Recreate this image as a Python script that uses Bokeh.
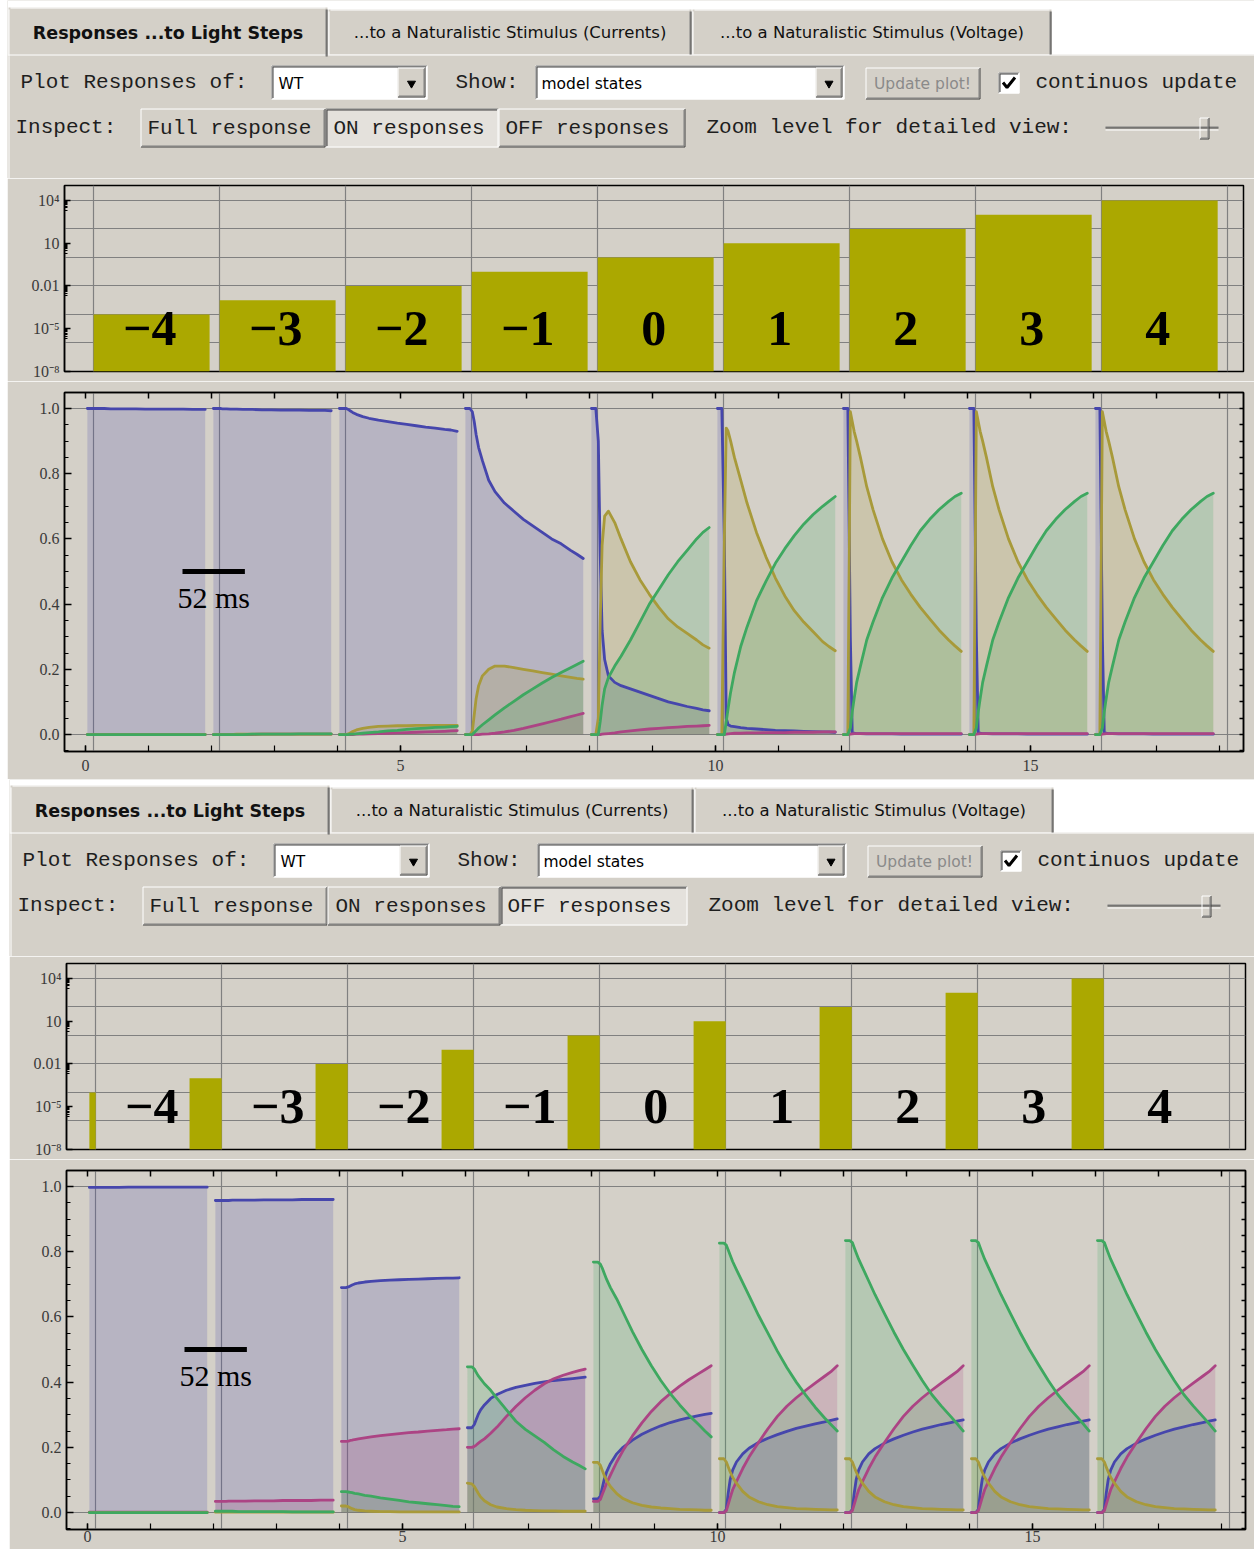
import numpy as np
from bokeh.plotting import figure
from bokeh.layouts import column, row
from bokeh.models import (Range1d, FixedTicker, LinearAxis, Grid, NumeralTickFormatter, Spacer)
from bokeh.core.properties import value
from bokeh.embed import file_html
from bokeh.resources import INLINE

# ---------------------------------------------------------------- data
TAB_LABELS = ["Responses ...to Light Steps",
              "...to a Naturalistic Stimulus (Currents)",
              "...to a Naturalistic Stimulus (Voltage)"]
STEP_LABELS = ["\u22124", "\u22123", "\u22122", "\u22121", "0", "1", "2", "3", "4"]
STEP_INTENSITY = [1e-4, 1e-3, 1e-2, 1e-1, 1e0, 1e1, 1e2, 1e3, 1e4]
LOG_TICKS = [1e-8, 1e-5, 1e-2, 1e1, 1e4]
LOG_TICK_LABELS = ["10\u207b\u2078", "10\u207b\u2075", "0.01", "10", "10\u2074"]
LOG_GRID = [1e-6, 1e-4, 1e-2, 1e0, 1e2, 1e4]
X_TICKS = [0, 5, 10, 15]
Y_TICKS = [0.0, 0.2, 0.4, 0.6, 0.8, 1.0]
SCALE_BAR_X = [1.54, 2.53]
SCALE_BAR_Y = [0.5, 0.5]
SCALE_BAR_TEXT = "52 ms"

# time within each 2-unit step window
T_REL = [0.03, 0.10, 0.14, 0.17, 0.20, 0.24, 0.30, 0.40, 0.50, 0.65,
         0.80, 0.95, 1.10, 1.25, 1.40, 1.55, 1.70, 1.80, 1.90]

ON_BLUE = [
    [1.0, 1.0, 1.0, 1.0, 1.0, 1.0, 1.0, 0.999, 0.999, 0.999, 0.999, 0.998, 0.998, 0.998, 0.998, 0.998, 0.997, 0.997, 0.997],
    [1.0, 1.0, 1.0, 0.999, 0.999, 0.999, 0.998, 0.998, 0.997, 0.997, 0.996, 0.996, 0.995, 0.995, 0.995, 0.994, 0.994, 0.994, 0.993],
    [1.0, 1.0, 1.0, 0.997, 0.993, 0.988, 0.982, 0.975, 0.970, 0.964, 0.960, 0.955, 0.951, 0.947, 0.943, 0.940, 0.936, 0.934, 0.930],
    [1.0, 1.0, 0.99, 0.96, 0.92, 0.88, 0.84, 0.78, 0.745, 0.71, 0.685, 0.66, 0.64, 0.62, 0.60, 0.585, 0.565, 0.553, 0.54],
    [1.0, 1.0, 0.9, 0.55, 0.32, 0.23, 0.18, 0.16, 0.15, 0.14, 0.13, 0.12, 0.11, 0.10, 0.093, 0.086, 0.08, 0.076, 0.073],
    [1.0, 1.0, 0.6, 0.05, 0.03, 0.026, 0.024, 0.021, 0.019, 0.017, 0.015, 0.013, 0.012, 0.011, 0.010, 0.009, 0.008, 0.008, 0.007],
    [1.0, 1.0, 0.3, 0.006, 0.004, 0.003, 0.003, 0.002, 0.002, 0.002, 0.002, 0.001, 0.001, 0.001, 0.001, 0.001, 0.001, 0.001, 0.001],
    [1.0, 1.0, 0.3, 0.006, 0.004, 0.003, 0.003, 0.002, 0.002, 0.002, 0.002, 0.001, 0.001, 0.001, 0.001, 0.001, 0.001, 0.001, 0.001],
    [1.0, 1.0, 0.3, 0.006, 0.004, 0.003, 0.003, 0.002, 0.002, 0.002, 0.002, 0.001, 0.001, 0.001, 0.001, 0.001, 0.001, 0.001, 0.001],
]
ON_MAGENTA = [
    [0.0] * 19,
    [0, 0, 0, 0, 0, 0, 0, 0, 0, 0, 0.001, 0.001, 0.001, 0.001, 0.001, 0.001, 0.001, 0.001, 0.001],
    [0, 0, 0, 0, 0, 0, 0.001, 0.001, 0.002, 0.003, 0.004, 0.005, 0.006, 0.007, 0.008, 0.009, 0.010, 0.011, 0.012],
    [0, 0, 0, 0, 0, 0, 0.001, 0.002, 0.004, 0.008, 0.013, 0.019, 0.026, 0.033, 0.040, 0.047, 0.055, 0.060, 0.065],
    [0, 0, 0, 0, 0.001, 0.002, 0.003, 0.005, 0.008, 0.011, 0.014, 0.017, 0.019, 0.021, 0.023, 0.025, 0.026, 0.027, 0.028],
    [0, 0, 0, 0.001, 0.002, 0.003, 0.004, 0.004, 0.005, 0.005, 0.006, 0.006, 0.006, 0.007, 0.007, 0.007, 0.008, 0.008, 0.008],
    [0, 0, 0.001, 0.002, 0.003, 0.003, 0.003, 0.003, 0.003, 0.003, 0.003, 0.003, 0.003, 0.003, 0.003, 0.003, 0.003, 0.003, 0.003],
    [0, 0, 0.001, 0.002, 0.003, 0.003, 0.003, 0.003, 0.003, 0.003, 0.003, 0.003, 0.003, 0.003, 0.003, 0.003, 0.003, 0.003, 0.003],
    [0, 0, 0.001, 0.002, 0.003, 0.003, 0.003, 0.003, 0.003, 0.003, 0.003, 0.003, 0.003, 0.003, 0.003, 0.003, 0.003, 0.003, 0.003],
]
ON_OLIVE = [
    [0.0] * 19,
    [0, 0, 0, 0, 0, 0, 0, 0.001, 0.001, 0.001, 0.001, 0.001, 0.001, 0.001, 0.001, 0.001, 0.001, 0.001, 0.001],
    [0, 0, 0, 0.002, 0.005, 0.009, 0.014, 0.019, 0.022, 0.025, 0.026, 0.027, 0.027, 0.028, 0.028, 0.028, 0.028, 0.028, 0.028],
    [0, 0, 0.01, 0.06, 0.11, 0.15, 0.18, 0.20, 0.21, 0.21, 0.205, 0.20, 0.195, 0.19, 0.185, 0.18, 0.175, 0.172, 0.17],
    [0, 0, 0.05, 0.35, 0.58, 0.67, 0.685, 0.65, 0.60, 0.53, 0.475, 0.43, 0.39, 0.355, 0.33, 0.31, 0.29, 0.275, 0.265],
    [0, 0, 0.6, 0.94, 0.93, 0.90, 0.85, 0.78, 0.71, 0.62, 0.545, 0.48, 0.425, 0.38, 0.345, 0.315, 0.285, 0.27, 0.257],
    [0, 0, 0.99, 0.96, 0.93, 0.90, 0.85, 0.76, 0.69, 0.60, 0.53, 0.475, 0.43, 0.39, 0.355, 0.32, 0.29, 0.272, 0.255],
    [0, 0, 0.99, 0.96, 0.93, 0.90, 0.85, 0.76, 0.69, 0.60, 0.53, 0.475, 0.43, 0.39, 0.355, 0.32, 0.29, 0.272, 0.255],
    [0, 0, 0.99, 0.96, 0.93, 0.90, 0.85, 0.76, 0.69, 0.60, 0.53, 0.475, 0.43, 0.39, 0.355, 0.32, 0.29, 0.272, 0.255],
]
ON_GREEN = [
    [0.0] * 19,
    [0, 0, 0, 0, 0, 0, 0, 0, 0, 0.001, 0.001, 0.001, 0.001, 0.001, 0.002, 0.002, 0.002, 0.002, 0.002],
    [0, 0, 0, 0, 0.001, 0.001, 0.002, 0.004, 0.006, 0.008, 0.011, 0.013, 0.016, 0.018, 0.020, 0.022, 0.023, 0.024, 0.025],
    [0, 0, 0, 0.006, 0.012, 0.02, 0.03, 0.045, 0.06, 0.082, 0.102, 0.122, 0.14, 0.158, 0.175, 0.19, 0.205, 0.215, 0.225],
    [0, 0, 0, 0.04, 0.09, 0.14, 0.175, 0.21, 0.24, 0.29, 0.345, 0.40, 0.445, 0.49, 0.53, 0.565, 0.60, 0.62, 0.635],
    [0, 0, 0, 0.04, 0.08, 0.13, 0.19, 0.27, 0.33, 0.41, 0.47, 0.525, 0.57, 0.61, 0.645, 0.675, 0.70, 0.715, 0.73],
    [0, 0, 0.02, 0.07, 0.11, 0.16, 0.21, 0.29, 0.345, 0.42, 0.48, 0.53, 0.58, 0.625, 0.66, 0.69, 0.715, 0.73, 0.74],
    [0, 0, 0.02, 0.07, 0.11, 0.16, 0.21, 0.29, 0.345, 0.42, 0.48, 0.53, 0.58, 0.625, 0.66, 0.69, 0.715, 0.73, 0.74],
    [0, 0, 0.02, 0.07, 0.11, 0.16, 0.21, 0.29, 0.345, 0.42, 0.48, 0.53, 0.58, 0.625, 0.66, 0.69, 0.715, 0.73, 0.74],
]

OFF_BLUE = [
    [0.997, 0.997, 0.997, 0.997, 0.997, 0.997, 0.997, 0.997, 0.997, 0.998, 0.998, 0.998, 0.998, 0.998, 0.998, 0.998, 0.998, 0.998, 0.998],
    [0.957, 0.957, 0.957, 0.957, 0.957, 0.957, 0.958, 0.958, 0.958, 0.958, 0.959, 0.959, 0.959, 0.959, 0.96, 0.96, 0.96, 0.96, 0.96],
    [0.69, 0.69, 0.692, 0.695, 0.698, 0.701, 0.704, 0.707, 0.709, 0.711, 0.713, 0.714, 0.715, 0.716, 0.717, 0.718, 0.719, 0.719, 0.72],
    [0.26, 0.26, 0.27, 0.285, 0.30, 0.315, 0.33, 0.35, 0.362, 0.375, 0.384, 0.39, 0.396, 0.401, 0.405, 0.408, 0.411, 0.413, 0.415],
    [0.042, 0.042, 0.05, 0.075, 0.10, 0.125, 0.15, 0.18, 0.2, 0.222, 0.24, 0.254, 0.266, 0.276, 0.284, 0.291, 0.297, 0.301, 0.304],
    [0.0, 0.0, 0.01, 0.06, 0.10, 0.13, 0.155, 0.18, 0.197, 0.215, 0.228, 0.239, 0.249, 0.258, 0.265, 0.272, 0.278, 0.283, 0.287],
    [0.0, 0.0, 0.01, 0.06, 0.10, 0.13, 0.155, 0.18, 0.196, 0.213, 0.226, 0.237, 0.247, 0.256, 0.263, 0.27, 0.276, 0.28, 0.284],
    [0.0, 0.0, 0.01, 0.06, 0.10, 0.13, 0.155, 0.18, 0.196, 0.213, 0.226, 0.237, 0.247, 0.256, 0.263, 0.27, 0.276, 0.28, 0.284],
    [0.0, 0.0, 0.01, 0.06, 0.10, 0.13, 0.155, 0.18, 0.196, 0.213, 0.226, 0.237, 0.247, 0.256, 0.263, 0.27, 0.276, 0.28, 0.284],
]
OFF_MAGENTA = [
    [0.001] * 19,
    [0.034, 0.034, 0.034, 0.034, 0.034, 0.035, 0.035, 0.035, 0.035, 0.036, 0.036, 0.036, 0.037, 0.037, 0.037, 0.037, 0.038, 0.038, 0.038],
    [0.218, 0.218, 0.219, 0.221, 0.222, 0.224, 0.226, 0.229, 0.232, 0.236, 0.239, 0.242, 0.245, 0.247, 0.25, 0.252, 0.254, 0.256, 0.257],
    [0.2, 0.2, 0.203, 0.207, 0.212, 0.218, 0.226, 0.243, 0.262, 0.295, 0.325, 0.352, 0.375, 0.395, 0.41, 0.421, 0.43, 0.435, 0.44],
    [0.034, 0.034, 0.04, 0.055, 0.07, 0.09, 0.115, 0.155, 0.19, 0.235, 0.275, 0.31, 0.34, 0.365, 0.388, 0.408, 0.426, 0.438, 0.45],
    [0.0, 0.0, 0.006, 0.025, 0.045, 0.07, 0.095, 0.135, 0.17, 0.215, 0.257, 0.295, 0.326, 0.352, 0.375, 0.397, 0.418, 0.432, 0.45],
    [0.0, 0.0, 0.006, 0.025, 0.045, 0.07, 0.095, 0.135, 0.17, 0.215, 0.257, 0.295, 0.326, 0.352, 0.375, 0.397, 0.418, 0.432, 0.45],
    [0.0, 0.0, 0.006, 0.025, 0.045, 0.07, 0.095, 0.135, 0.17, 0.215, 0.257, 0.295, 0.326, 0.352, 0.375, 0.397, 0.418, 0.432, 0.45],
    [0.0, 0.0, 0.006, 0.025, 0.045, 0.07, 0.095, 0.135, 0.17, 0.215, 0.257, 0.295, 0.326, 0.352, 0.375, 0.397, 0.418, 0.432, 0.45],
]
OFF_OLIVE = [
    [0.0] * 19,
    [0.001] * 19,
    [0.02, 0.02, 0.018, 0.015, 0.012, 0.009, 0.007, 0.005, 0.004, 0.003, 0.003, 0.002, 0.002, 0.002, 0.002, 0.002, 0.002, 0.002, 0.002],
    [0.09, 0.088, 0.08, 0.07, 0.06, 0.048, 0.036, 0.024, 0.017, 0.012, 0.009, 0.007, 0.006, 0.005, 0.005, 0.004, 0.004, 0.004, 0.004],
    [0.154, 0.154, 0.145, 0.13, 0.115, 0.098, 0.08, 0.058, 0.043, 0.03, 0.022, 0.017, 0.014, 0.012, 0.01, 0.009, 0.008, 0.007, 0.007],
    [0.165, 0.165, 0.155, 0.14, 0.125, 0.108, 0.09, 0.065, 0.048, 0.033, 0.024, 0.018, 0.015, 0.012, 0.011, 0.01, 0.009, 0.008, 0.008],
    [0.165, 0.165, 0.155, 0.14, 0.125, 0.108, 0.09, 0.065, 0.048, 0.033, 0.024, 0.018, 0.015, 0.012, 0.011, 0.01, 0.009, 0.008, 0.008],
    [0.165, 0.165, 0.155, 0.14, 0.125, 0.108, 0.09, 0.065, 0.048, 0.033, 0.024, 0.018, 0.015, 0.012, 0.011, 0.01, 0.009, 0.008, 0.008],
    [0.165, 0.165, 0.155, 0.14, 0.125, 0.108, 0.09, 0.065, 0.048, 0.033, 0.024, 0.018, 0.015, 0.012, 0.011, 0.01, 0.009, 0.008, 0.008],
]
OFF_GREEN = [
    [0.0] * 19,
    [0.004, 0.004, 0.004, 0.004, 0.004, 0.004, 0.004, 0.003, 0.003, 0.003, 0.003, 0.003, 0.003, 0.002, 0.002, 0.002, 0.002, 0.002, 0.002],
    [0.064, 0.064, 0.063, 0.062, 0.061, 0.059, 0.057, 0.053, 0.05, 0.045, 0.041, 0.037, 0.033, 0.03, 0.027, 0.024, 0.021, 0.019, 0.018],
    [0.447, 0.447, 0.44, 0.43, 0.42, 0.41, 0.395, 0.375, 0.35, 0.315, 0.28, 0.255, 0.235, 0.215, 0.192, 0.172, 0.155, 0.145, 0.134],
    [0.768, 0.768, 0.762, 0.75, 0.735, 0.715, 0.69, 0.655, 0.615, 0.555, 0.5, 0.45, 0.405, 0.365, 0.33, 0.298, 0.27, 0.25, 0.232],
    [0.826, 0.826, 0.82, 0.805, 0.79, 0.77, 0.745, 0.705, 0.665, 0.605, 0.55, 0.495, 0.445, 0.40, 0.36, 0.323, 0.29, 0.27, 0.25],
    [0.834, 0.834, 0.828, 0.812, 0.797, 0.777, 0.752, 0.71, 0.668, 0.61, 0.553, 0.5, 0.452, 0.405, 0.362, 0.327, 0.295, 0.273, 0.25],
    [0.834, 0.834, 0.828, 0.812, 0.797, 0.777, 0.752, 0.71, 0.668, 0.61, 0.553, 0.5, 0.452, 0.405, 0.362, 0.327, 0.295, 0.273, 0.25],
    [0.834, 0.834, 0.828, 0.812, 0.797, 0.777, 0.752, 0.71, 0.668, 0.61, 0.553, 0.5, 0.452, 0.405, 0.362, 0.327, 0.295, 0.273, 0.25],
]

# ---------------------------------------------------------------- style
BG = "#d4d0c8"
FRAME_W = 1179                    # width of every chart frame
X_LO, X_HI = -0.333, 18.38
SERIES_COLORS = ["#4646ac", "#ac4484", "#a89a3a", "#3ea860"]   # blue, magenta, olive, green
BAR_COLOR = "#aba800"
GRID_COLOR = "#808080"
TICK_COLOR = "#3a3a3a"
MONO = value("Liberation Mono")
SANS = value("DejaVu Sans")
SERIF = value("Liberation Serif")
STEP_ONSETS = [2 * k + 0.13 for k in range(10)]


def bevel(S, x0, y0, x1, y1, raised=True, bottom=True):
    if raised:
        tl = [("white", 0.5)]
        br = [("#404040", 0.5), ("#808080", 1.5)]
    else:
        tl = [("#808080", 0.5), ("#404040", 1.5)]
        br = [("white", 0.5)]
    for c, o in tl:
        S.append((x0 + o, y0 + o, x1 - o, y0 + o, c))
        S.append((x0 + o, y0 + o, x0 + o, y1 - o, c))
    for c, o in br:
        S.append((x1 - o, y0 + o, x1 - o, y1 - o, c))
        if bottom:
            S.append((x0 + o, y1 - o, x1 - o, y1 - o, c))


def header(pressed, width, y_top, height):
    x_left, x_right = 7, 7 + width
    p = figure(width=width, height=height, x_range=Range1d(x_left, x_right),
               y_range=Range1d(y_top + height, y_top),
               x_axis_type=None, y_axis_type=None, title=None, frame_align=False,
               toolbar_location=None, output_backend="svg", min_border=0,
               min_border_left=0, min_border_right=0, min_border_top=0, min_border_bottom=0,
               background_fill_color=BG, border_fill_color=BG, outline_line_color=None)
    Q, S = [], []
    Q.append((x_left, x_right, y_top, 54, "white"))
    S.append((x_left, 54.5, x_right, 54.5, "white"))
    tabs = [(8, 327, 7, 56), (328, 691, 9, 54), (692, 1051, 9, 54)]
    for (l, r, t, b) in tabs:
        Q.append((l, r, t, b, BG))
        S.append((l + 2, t + 0.5, r - 2, t + 0.5, "white"))
        S.append((l + 0.5, t + 2, l + 0.5, b, "white"))
        S.append((r - 1.5, t + 2, r - 1.5, b, "#808080"))
        S.append((r - 0.5, t + 2, r - 0.5, b, "#404040"))
    S.append((8.5, 56, 8.5, y_top + height, "white"))

    # row 1 widgets
    for (l, r, bl) in [(271, 427, 397), (535, 844, 815)]:
        Q.append((l, r, 65, 99, "white"))
        bevel(S, l, 65, r, 99, raised=False)
        Q.append((bl, r - 2, 67, 97, BG))
        bevel(S, bl, 67, r - 2, 97, raised=True)
    Q.append((865, 980, 67, 99, BG))
    bevel(S, 865, 67, 980, 99, raised=True)
    Q.append((998, 1019, 72, 93, "white"))
    bevel(S, 998, 72, 1019, 93, raised=False)

    # row 2 toggle buttons
    buttons = [(140, 325, "FULL"), (325, 498, "ON"), (498, 685, "OFF")]
    for (l, r, name) in buttons:
        down = (name == pressed)
        Q.append((l, r, 108, 147, "#e4e1dc" if down else BG))
        bevel(S, l, 108, r, 147, raised=not down)
    # slider
    S.append((1105, 126.5, 1218, 126.5, "#808080"))
    S.append((1105, 127.5, 1218, 127.5, "#404040"))
    S.append((1105, 129.5, 1218, 129.5, "white"))
    Q.append((1199, 1209, 117, 139, BG))
    bevel(S, 1199, 117, 1209, 139, raised=True)

    p.quad(left=[q[0] for q in Q], right=[q[1] for q in Q], top=[q[2] for q in Q],
           bottom=[q[3] for q in Q], fill_color=[q[4] for q in Q], line_color=None)
    p.segment(x0=[s[0] for s in S], y0=[s[1] for s in S], x1=[s[2] for s in S],
              y1=[s[3] for s in S], line_color=[s[4] for s in S], line_width=1)
    p.scatter(x=[411, 828.5], y=[83, 83], marker="inverted_triangle", size=8,
              fill_color="black", line_color="black")
    p.line(x=[1002.5, 1006.5, 1014.5], y=[82, 87, 77], line_color="black", line_width=3)

    # tab texts
    p.text(x=[167.5], y=[32], text=[TAB_LABELS[0]], text_font=SANS, text_font_size="17.5px",
           text_font_style="bold", text_align="center", text_baseline="middle", text_color="#111111")
    p.text(x=[509.5, 871.5], y=[32, 32], text=TAB_LABELS[1:], text_font=SANS, text_font_size="16.5px",
           text_align="center", text_baseline="middle", text_color="#111111")
    # monospace labels
    mono_x = [20, 455, 1035, 15, 147, 333, 505, 706]
    mono_y = [82, 82, 82, 127, 128, 128, 128, 127]
    mono_t = ["Plot Responses of:", "Show:", "continuos update", "Inspect:",
              "Full response", "ON responses", "OFF responses", "Zoom level for detailed view:"]
    p.text(x=mono_x, y=mono_y, text=mono_t, text_font=MONO, text_font_size="21px",
           text_align="left", text_baseline="middle", text_color="#1e1e1e")
    p.text(x=[278, 541], y=[83, 83], text=["WT", "model states"], text_font=SANS,
           text_font_size="15.5px", text_align="left", text_baseline="middle", text_color="#000000")
    p.text(x=[922], y=[83], text=["Update plot!"], text_font=SANS, text_font_size="15.5px",
           text_align="center", text_baseline="middle", text_color="#8a8a8a")
    return p


def style_axis_labels(ax, standoff=5):
    ax.axis_line_color = "black"
    ax.axis_line_width = 1.5
    ax.major_tick_line_width = 1.5
    ax.minor_tick_line_width = 1.2
    ax.major_label_text_font = "Liberation Serif"
    ax.major_label_text_font_size = "16px"
    ax.major_label_text_color = TICK_COLOR
    ax.major_label_standoff = standoff


def bar_chart(off, width, border_right):
    p = figure(width=width, height=203, x_range=Range1d(X_LO, X_HI), y_range=Range1d(1e-8, 10 ** 5.05),
               y_axis_type="log", x_axis_type=None, title=None, frame_align=False,
               toolbar_location=None, output_backend="svg",
               min_border_left=57, min_border_right=border_right,
               min_border_top=7, min_border_bottom=10,
               background_fill_color=BG, border_fill_color=BG,
               outline_line_color="black", outline_line_width=1.5)
    ax = p.yaxis[0]
    minor = [m * t / 10 for t in LOG_TICKS for m in range(2, 10)]
    ax.ticker = FixedTicker(ticks=LOG_TICKS, minor_ticks=minor)
    ax.major_label_overrides = dict(zip(LOG_TICKS, LOG_TICK_LABELS))
    ax.major_tick_in, ax.major_tick_out = 6, 0
    ax.minor_tick_in, ax.minor_tick_out = 3, 0
    style_axis_labels(ax)
    p.ygrid.ticker = FixedTicker(ticks=LOG_GRID)
    p.ygrid.grid_line_color = GRID_COLOR
    p.ygrid.grid_line_width = 1.2
    p.add_layout(Grid(dimension=0, ticker=FixedTicker(ticks=STEP_ONSETS),
                      grid_line_color=GRID_COLOR, grid_line_width=1.2))
    idx = np.arange(len(STEP_INTENSITY))
    if off:
        left = np.maximum(2 * idx - 0.38, 0.03)
        right = 2 * idx + 0.13
    else:
        left = 2 * idx + 0.13
        right = 2 * idx + 1.97
    p.quad(left=left, right=right, bottom=1e-8, top=STEP_INTENSITY,
           fill_color=BAR_COLOR, line_color=None)
    p.text(x=2 * idx + 1.02, y=[1e-5] * len(idx), text=STEP_LABELS, text_font=SERIF,
           text_font_size="50px", text_font_style="bold", text_align="center",
           text_baseline="middle", text_color="black")
    return p


def line_chart(series, width, border_right, height, border_bottom, x_standoff):
    p = figure(width=width, height=height, x_range=Range1d(X_LO, X_HI), y_range=Range1d(-0.052, 1.049),
               x_axis_type=None, title=None, frame_align=False,
               toolbar_location=None, output_backend="svg",
               min_border_left=57, min_border_right=border_right, min_border_top=11,
               min_border_bottom=border_bottom,
               background_fill_color=BG, border_fill_color=BG,
               outline_line_color="black", outline_line_width=1.5)
    y_minor = [round(0.05 * i, 2) for i in range(-1, 22)]
    x_minor = list(range(0, 19))
    ax = p.yaxis[0]
    ax.ticker = FixedTicker(ticks=Y_TICKS, minor_ticks=y_minor)
    ax.formatter = NumeralTickFormatter(format="0.0")
    ax.major_tick_in, ax.major_tick_out = 7, 0
    ax.minor_tick_in, ax.minor_tick_out = 4, 0
    style_axis_labels(ax)

    xb = LinearAxis(ticker=FixedTicker(ticks=X_TICKS, minor_ticks=x_minor),
                    major_tick_in=6, major_tick_out=0, minor_tick_in=6, minor_tick_out=0)
    style_axis_labels(xb, standoff=x_standoff)
    p.add_layout(xb, "below")
    for side, minor, length in (("right", y_minor, 4), ("above", x_minor, 6)):
        a = LinearAxis(ticker=FixedTicker(ticks=[], minor_ticks=minor),
                       minor_tick_in=length, minor_tick_out=0, major_tick_in=0, major_tick_out=0,
                       major_label_standoff=0, axis_line_color="black", axis_line_width=1.5,
                       minor_tick_line_color="black", minor_tick_line_width=1.5)
        p.add_layout(a, side)
    p.ygrid.ticker = FixedTicker(ticks=[0.0, 1.0])
    p.ygrid.grid_line_color = GRID_COLOR
    p.ygrid.grid_line_width = 1.2
    p.add_layout(Grid(dimension=0, ticker=FixedTicker(ticks=STEP_ONSETS),
                      grid_line_color=GRID_COLOR, grid_line_width=1.2))

    t = np.array(T_REL)
    for vals, color in zip(series, SERIES_COLORS):
        xs, ys = [], []
        for k, seg in enumerate(vals):
            x = list(2 * k + t)
            xs.append(x + x[::-1])
            ys.append(list(seg) + [0.0] * len(seg))
        p.patches(xs, ys, fill_color=color, fill_alpha=0.2, line_color=None)
    for vals, color in zip(series, SERIES_COLORS):
        xs = [list(2 * k + t) for k in range(len(vals))]
        p.multi_line(xs, [list(v) for v in vals], line_color=color, line_width=2.8,
                     line_join="round", line_cap="round")

    p.line(SCALE_BAR_X, SCALE_BAR_Y, line_color="black", line_width=5)
    p.text(x=[float(np.mean(SCALE_BAR_X))], y=[0.42], text=[SCALE_BAR_TEXT], text_font=SERIF,
           text_font_size="30px", text_align="center", text_baseline="middle", text_color="black")
    return p


# top panel: page x 7..1254 ; bottom panel is drawn 2 px further right
W_TOP = 1247
W_BOT = 1245
top = column(header("ON", W_TOP, 0, 178),
             bar_chart(False, W_TOP, W_TOP - 57 - FRAME_W),
             line_chart([ON_BLUE, ON_MAGENTA, ON_OLIVE, ON_GREEN], W_TOP, W_TOP - 57 - FRAME_W, 398, 28, 8),
             spacing=0)
bottom = column(header("OFF", W_BOT, 1, 177),
                bar_chart(True, W_BOT, W_BOT - 57 - FRAME_W),
                line_chart([OFF_BLUE, OFF_MAGENTA, OFF_OLIVE, OFF_GREEN], W_BOT, W_BOT - 57 - FRAME_W, 390, 20, 1),
                spacing=0)

layout = column(row(Spacer(width=7, height=10), top, spacing=0),
                row(Spacer(width=9, height=10), bottom, spacing=0),
                spacing=0)
open("out.html", "w").write(file_html(layout, INLINE, title="Responses to Light Steps"))
